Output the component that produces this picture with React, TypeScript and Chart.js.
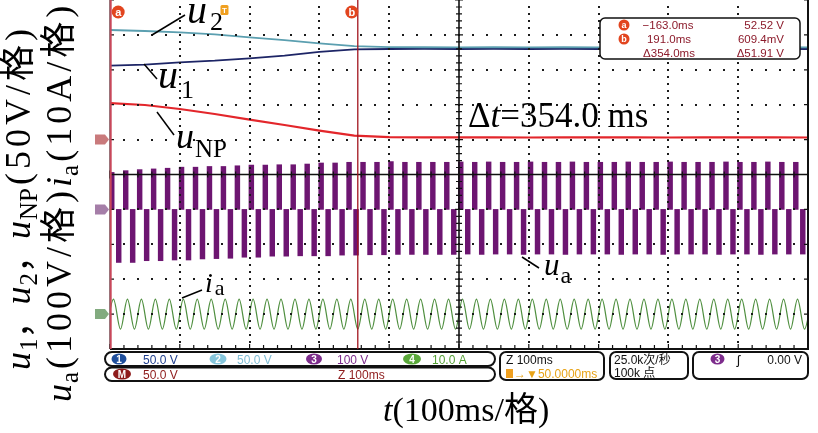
import React, { useEffect, useRef } from "react";
import { Chart, registerables } from "chart.js";

Chart.register(...registerables);

const W = 818;
const H = 433;

// ---------------- data ----------------
const timeWindowMs = [-164, 836];
const divisionMs = 100;
const cursorTimesMs = [-163.0, 191.0];
const triggerTimeMs = 0;

// channel settings (per division, ground position in divisions from screen centre)
const dcVoltsPerDiv = 50;
const uaVoltsPerDiv = 100;
const iaAmpsPerDiv = 10;
const dcGroundDiv = 1;
const uaGroundDiv = -1;
const iaGroundDiv = -4;

// capacitor voltages and neutral-point voltage (V)
const traceTimesMs = [-164, -114, -64, -14, 36, 86, 136, 186, 236, 286, 336, 386, 436, 486, 536, 586, 636, 686, 736, 786, 836];
const u2Volts = [157.0, 155.6, 153.7, 150.8, 146.5, 142.6, 138.0, 133.9, 132.4, 132.3, 132.2, 132.3, 132.2, 132.3, 132.2, 132.3, 132.2, 132.3, 132.2, 132.3, 132.2];
const u1Volts = [105.9, 107.3, 110.7, 113.0, 116.5, 120.2, 125.6, 129.3, 129.8, 129.9, 129.8, 129.9, 129.8, 129.9, 129.8, 129.9, 129.8, 129.9, 129.8, 129.9, 129.8];
const uNpVolts = [52.4, 49.6, 43.8, 36.7, 28.5, 20.9, 12.8, 5.6, 3.6, 3.2, 3.1, 3.2, 3.0, 3.2, 3.1, 3.2, 3.0, 3.2, 3.1, 3.2, 3.0];

// phase current: successive extrema (A), one every 10 ms starting at -169 ms
const iaFirstExtremumMs = -169;
const iaExtremumStepMs = 10;
const iaExtremaAmps = [
  -4.3, 4.3, -4.3, 4.3, -4.3, 4.3, -4.3, 4.3, -4.3, 4.3,
  -4.3, 4.3, -4.3, 4.3, -4.3, 4.3, -4.3, 4.3, -4.3, 4.3,
  -4.3, 4.3, -4.3, 4.3, -4.3, 4.3, -4.3, 4.3, -4.3, 4.3,
  -4.3, 4.3, -4.3, 4.3, -4.3, 4.3, -4.3, 4.3, -4.3, 4.3,
  -4.3, 4.3, -4.3, 4.3, -4.3, 4.3, -4.3, 4.3, -4.3, 4.3,
  -4.3, 4.3, -4.3, 4.3, -4.3, 4.3, -4.3, 4.3, -4.3, 4.3,
  -4.3, 4.3, -4.3, 4.3, -4.3, 4.3, -4.3, 4.3, -4.3, 4.3,
  -4.3, 4.3, -4.3, 4.3, -4.3, 4.3, -4.3, 4.3, -4.3, 4.3,
  -4.3, 4.3, -4.3, 4.3, -4.3, 4.3, -4.3, 4.3, -4.3, 4.3,
  -4.3, 4.3, -4.3, 4.3, -4.3, 4.3, -4.3, 4.3, -4.3, 4.3,
  -4.3, 4.3,
];

// phase voltage: one positive and one negative pulse block per fundamental cycle (V)
const uaFirstPositiveMs = -161.5;
const uaFirstNegativeMs = -151.5;
const uaCycleMs = 20;
const uaPositiveVolts = [
  106, 111, 114, 116, 118, 121, 121, 123, 123, 125, 127, 127, 128, 128, 130, 133, 133, 135, 135, 135, 137, 135, 135, 135, 135,
  136, 135, 136, 135, 135, 136, 135, 135, 136, 135, 135, 135, 136, 135, 135, 136, 135, 135, 135, 136, 135, 135, 136, 135, 135,
];
const uaNegativeVolts = [
  -152, -152, -147, -147, -145, -145, -142, -141, -140, -137, -137, -134, -134, -133, -133, -133, -131, -131, -130, -130, -129, -129, -129, -129, -129,
  -128, -129, -128, -128, -129, -128, -128, -129, -128, -128, -128, -129, -128, -128, -129, -128, -128, -128, -129, -128, -128, -129, -128, -128, -128,
];

// ---------------- styling ----------------
const SERIF = '"Liberation Serif", "Times New Roman", "Noto Sans CJK SC", serif';
const SANS = '"Liberation Sans", "DejaVu Sans", "Noto Sans CJK SC", sans-serif';

type Run = { t: string; s: number; it?: boolean; dy?: number; dx?: number; f?: string; c?: string; w?: string; ls?: number };

function drawRuns(ctx: CanvasRenderingContext2D, runs: Run[], x: number, y: number) {
  let cx = x;
  for (const r of runs) {
    const parts: string[] = [];
    if (r.it) parts.push("italic");
    if (r.w) parts.push(r.w);
    parts.push(`${r.s}px ${r.f ?? SERIF}`);
    ctx.font = parts.join(" ");
    (ctx as any).letterSpacing = `${r.ls ?? 0}px`;
    ctx.fillStyle = r.c ?? "#000";
    cx += r.dx ?? 0;
    ctx.fillText(r.t, cx, y + (r.dy ?? 0));
    cx += ctx.measureText(r.t).width;
  }
  (ctx as any).letterSpacing = "0px";
  return cx;
}

function line(ctx: CanvasRenderingContext2D, x1: number, y1: number, x2: number, y2: number, color = "#000", w = 1.5) {
  ctx.beginPath();
  ctx.moveTo(x1, y1);
  ctx.lineTo(x2, y2);
  ctx.strokeStyle = color;
  ctx.lineWidth = w;
  ctx.stroke();
}

function box(ctx: CanvasRenderingContext2D, x: number, y: number, w: number, h: number, r: number, lw = 2) {
  ctx.beginPath();
  ctx.roundRect(x, y, w, h, r);
  ctx.fillStyle = "#fff";
  ctx.fill();
  ctx.strokeStyle = "#111";
  ctx.lineWidth = lw;
  ctx.stroke();
}

function badge(ctx: CanvasRenderingContext2D, cx: number, cy: number, w: number, h: number, fill: string, label: string) {
  ctx.beginPath();
  ctx.ellipse(cx, cy, w / 2, h / 2, 0, 0, Math.PI * 2);
  ctx.fillStyle = fill;
  ctx.fill();
  ctx.fillStyle = "#fff";
  ctx.font = `bold 10px ${SANS}`;
  ctx.textAlign = "center";
  ctx.fillText(label, cx, cy + 3.6);
  ctx.textAlign = "left";
}

function txt(ctx: CanvasRenderingContext2D, s: string, x: number, y: number, color: string, size = 12, align: CanvasTextAlign = "left") {
  ctx.font = `${size}px ${SANS}`;
  ctx.fillStyle = color;
  ctx.textAlign = align;
  ctx.fillText(s, x, y);
  ctx.textAlign = "left";
}

const scopePlugin = {
  id: "scopeScreen",
  afterDatasetsDraw(chart: any) {
    const { ctx, chartArea: a } = chart;
    const xs = chart.scales.x;
    const yd = chart.scales.yDiv;
    const t0 = timeWindowMs[0];
    ctx.save();
    // dotted graticule
    ctx.fillStyle = "#1b1b1b";
    for (let k = 1; k < 10; k++) {
      if (k === 5) continue;
      const px = Math.round(xs.getPixelForValue(t0 + k * divisionMs));
      for (let j = 1; j < 50; j++) {
        const py = Math.round(yd.getPixelForValue(-5 + j * 0.2));
        ctx.fillRect(px - 1, py - 1, 2, 2);
      }
    }
    for (let k = -4; k <= 4; k++) {
      if (k === 0) continue;
      const py = Math.round(yd.getPixelForValue(k));
      for (let j = 1; j < 50; j++) {
        const px = Math.round(xs.getPixelForValue(t0 + (j * divisionMs) / 5));
        ctx.fillRect(px - 1, py - 1, 2, 2);
      }
    }
    // centre cross
    const cx = xs.getPixelForValue(t0 + 5 * divisionMs);
    const cy = yd.getPixelForValue(0);
    line(ctx, a.left, cy, a.right, cy, "#111", 1.6);
    line(ctx, cx, a.top, cx, a.bottom, "#111", 1.6);
    ctx.beginPath();
    for (let j = 0; j <= 50; j++) {
      const px = xs.getPixelForValue(t0 + (j * divisionMs) / 5);
      const len = j % 5 === 0 ? 4 : 3;
      ctx.moveTo(px, cy - len);
      ctx.lineTo(px, cy + len);
      ctx.moveTo(px, a.bottom);
      ctx.lineTo(px, a.bottom - len - 1);
    }
    for (let j = 0; j <= 50; j++) {
      const py = yd.getPixelForValue(-5 + j * 0.2);
      const len = j % 5 === 0 ? 4 : 3;
      ctx.moveTo(cx - len, py);
      ctx.lineTo(cx + len, py);
      if (j % 5 === 0) {
        ctx.moveTo(a.left, py);
        ctx.lineTo(a.left + 4, py);
        ctx.moveTo(a.right, py);
        ctx.lineTo(a.right - 4, py);
      }
    }
    ctx.strokeStyle = "#111";
    ctx.lineWidth = 1.2;
    ctx.stroke();
    // frame
    line(ctx, a.left, a.bottom, a.right, a.bottom, "#111", 2);
    line(ctx, a.right, a.top, a.right, a.bottom + 1, "#111", 2);
    line(ctx, a.left, a.top, a.left, a.bottom, "#111", 1);
    ctx.restore();
  },
  afterDraw(chart: any) {
    const { ctx, chartArea: a } = chart;
    const xs = chart.scales.x;
    ctx.save();
    // cursors
    const xa = xs.getPixelForValue(cursorTimesMs[0]);
    const xb = xs.getPixelForValue(cursorTimesMs[1]);
    line(ctx, xa, a.top, xa, a.bottom, "#c8475a", 2);
    line(ctx, xb, a.top, xb, a.bottom, "#a3161f", 1.3);
    // cursor tags
    const tag = (x: number, y: number, l: string, r = 6.5, fs = 11) => {
      ctx.beginPath();
      ctx.arc(x, y, r, 0, Math.PI * 2);
      ctx.fillStyle = "#e2451f";
      ctx.fill();
      ctx.fillStyle = "#fff";
      ctx.font = `bold ${fs}px ${SANS}`;
      ctx.textAlign = "center";
      ctx.fillText(l, x, y + fs * 0.33);
      ctx.textAlign = "left";
    };
    tag(xa + 7.5, 12, "a");
    tag(xb - 6, 12, "b");
    // trigger marker
    const xt = xs.getPixelForValue(triggerTimeMs);
    ctx.fillStyle = "#f0a020";
    ctx.beginPath();
    ctx.roundRect(xt - 4, 5, 8, 10, 1.5);
    ctx.fill();
    ctx.fillStyle = "#fff";
    ctx.font = `bold 8px ${SANS}`;
    ctx.textAlign = "center";
    ctx.fillText("T", xt, 13);
    ctx.textAlign = "left";
    // ground markers on the left
    const marker = (y: number, c: string) => {
      ctx.beginPath();
      ctx.moveTo(95, y - 5);
      ctx.lineTo(105, y - 5);
      ctx.lineTo(109, y);
      ctx.lineTo(105, y + 5);
      ctx.lineTo(95, y + 5);
      ctx.closePath();
      ctx.fillStyle = c;
      ctx.fill();
    };
    marker(chart.scales.yV.getPixelForValue(0), "#c97a7c");
    marker(chart.scales.yUa.getPixelForValue(0), "#a57ea8");
    marker(chart.scales.yIa.getPixelForValue(0), "#82ab7f");

    // cursor readout box
    box(ctx, 600, 18, 200, 41, 5, 1.5);
    const red = "#8c1b2b";
    tag(624, 25, "a", 5.5, 9);
    tag(624, 39, "b", 5.5, 9);
    txt(ctx, "\u2212163.0ms", 668, 29, red, 11.5, "center");
    txt(ctx, "52.52 V", 784, 29, red, 11.5, "right");
    txt(ctx, "191.0ms", 669, 43, red, 11.5, "center");
    txt(ctx, "609.4mV", 784, 43, red, 11.5, "right");
    txt(ctx, "\u0394354.0ms", 669, 57, red, 11.5, "center");
    txt(ctx, "\u039451.91 V", 784, 57, red, 11.5, "right");

    // trace labels and leaders
    line(ctx, 152, 35, 185, 15);
    drawRuns(ctx, [{ t: "u", s: 40, it: true }, { t: "2", s: 26, dy: 7, dx: 3 }], 187, 23);
    line(ctx, 144, 64, 157, 79);
    drawRuns(ctx, [{ t: "u", s: 40, it: true }, { t: "1", s: 26, dy: 10, dx: 3 }], 158, 88);
    line(ctx, 157, 112, 174, 135);
    drawRuns(ctx, [{ t: "u", s: 36, it: true }, { t: "NP", s: 25, dy: 9, dx: 1 }], 176, 148);
    line(ctx, 522, 257, 539, 268);
    drawRuns(ctx, [{ t: "u", s: 31, it: true }, { t: "a", s: 24, dy: 8, dx: 1 }], 544, 275);
    line(ctx, 182, 298, 202, 290);
    drawRuns(ctx, [{ t: "i", s: 28, it: true }, { t: "a", s: 22, dy: 3, dx: 2 }], 205, 292);
    drawRuns(ctx, [{ t: "\u0394", s: 35 }, { t: "t", s: 35, it: true }, { t: "=354.0 ms", s: 35 }], 468, 127);

    // axis titles
    drawRuns(ctx, [{ t: "t", s: 34, it: true }, { t: "(100ms/\u683c)", s: 34 }], 383, 421);
    ctx.save();
    ctx.translate(30, 370);
    ctx.rotate(-Math.PI / 2);
    drawRuns(ctx, [
      { t: "u", s: 36, it: true }, { t: "1", s: 25, dy: 7, dx: 1 }, { t: "\uff0c", s: 34 },
      { t: "u", s: 36, it: true }, { t: "2", s: 25, dy: 7, dx: 1 }, { t: "\uff0c", s: 34 },
      { t: "u", s: 36, it: true }, { t: "NP", s: 25, dy: 7, dx: 1 },
      { t: "(50V/\u683c)", s: 36, ls: 4, dx: 3 },
    ], 0, 0);
    ctx.restore();
    ctx.save();
    ctx.translate(71, 402);
    ctx.rotate(-Math.PI / 2);
    drawRuns(ctx, [
      { t: "u", s: 36, it: true }, { t: "a", s: 25, dy: 7, dx: 1 }, { t: "(100V/\u683c)", s: 36, ls: 4, dx: 3 },
      { t: "i", s: 36, it: true }, { t: "a", s: 25, dy: 7, dx: 1 }, { t: "(10A/\u683c)", s: 36, ls: 4, dx: 3 },
    ], 0, 0);
    ctx.restore();

    // status bar
    box(ctx, 105, 352, 390, 14, 7);
    box(ctx, 105, 367.5, 390, 13.5, 7);
    badge(ctx, 119, 359, 15, 11, "#1f4f9c", "1");
    txt(ctx, "50.0 V", 143, 363.5, "#21408f");
    badge(ctx, 218, 359, 17, 11, "#86c6dc", "2");
    txt(ctx, "50.0 V", 237, 363.5, "#7fbcd4");
    badge(ctx, 314, 359, 16, 11, "#7d2c8c", "3");
    txt(ctx, "100 V", 337, 363.5, "#7d2c8c");
    badge(ctx, 412, 359, 18, 11, "#5aa83a", "4");
    txt(ctx, "10.0 A", 432, 363.5, "#55a035");
    badge(ctx, 122, 374, 18, 11, "#8e1b1b", "M");
    txt(ctx, "50.0 V", 143, 378.5, "#8e1b1b");
    txt(ctx, "Z 100ms", 338, 378.5, "#8e1b1b");

    box(ctx, 500, 352, 104, 28, 6);
    txt(ctx, "Z 100ms", 506, 363.5, "#111");
    ctx.fillStyle = "#f0a020";
    ctx.fillRect(506, 369, 7, 9);
    txt(ctx, "\u2192\u25bc50.0000ms", 514, 377.5, "#e8a317");

    box(ctx, 610, 352, 78, 27, 6);
    txt(ctx, "25.0k\u6b21/\u79d2", 614, 363.5, "#111");
    txt(ctx, "100k \u70b9", 614, 377, "#111");

    box(ctx, 693, 352, 115, 27, 6);
    badge(ctx, 717.5, 359, 14, 11, "#7d2c8c", "3");
    txt(ctx, "\u0283", 737, 364, "#111", 13);
    txt(ctx, "0.00 V", 802, 363.5, "#111", 12, "right");

    ctx.restore();
  },
};

function rangeFor(perDiv: number, groundDiv: number) {
  return { min: (-5 - groundDiv) * perDiv, max: (5 - groundDiv) * perDiv };
}

export default function App() {
  const ref = useRef<HTMLCanvasElement>(null);

  useEffect(() => {
    const canvas = ref.current;
    if (!canvas) return;

    const uaBars: { x: number; y: [number, number] }[] = [];
    uaPositiveVolts.forEach((v, k) => {
      uaBars.push({ x: uaFirstPositiveMs + k * uaCycleMs, y: [0, v] });
      uaBars.push({ x: uaFirstNegativeMs + k * uaCycleMs, y: [uaNegativeVolts[k], 0] });
    });
    const iaPoints = iaExtremaAmps.map((v, i) => ({ x: iaFirstExtremumMs + i * iaExtremumStepMs, y: v }));
    const pts = (vals: number[]) => vals.map((v, i) => ({ x: traceTimesMs[i], y: v }));

    const dc = rangeFor(dcVoltsPerDiv, dcGroundDiv);
    const ua = rangeFor(uaVoltsPerDiv, uaGroundDiv);
    const ia = rangeFor(iaAmpsPerDiv, iaGroundDiv);

    const chart = new Chart(canvas, {
      type: "line",
      data: {
        datasets: [
          { label: "u2", data: pts(u2Volts), borderColor: "#5b9fb0", borderWidth: 1.8, pointRadius: 0, yAxisID: "yV" },
          { label: "u1", data: pts(u1Volts), borderColor: "#1d2566", borderWidth: 1.8, pointRadius: 0, yAxisID: "yV" },
          { label: "uNP", data: pts(uNpVolts), borderColor: "#e3262b", borderWidth: 2.2, pointRadius: 0, yAxisID: "yV" },
          { label: "ia", data: iaPoints, borderColor: "#4f8f3f", borderWidth: 1.2, pointRadius: 0, cubicInterpolationMode: "monotone", yAxisID: "yIa" },
          { type: "bar", label: "ua", data: uaBars as any, backgroundColor: "#6d1571", borderWidth: 0, barThickness: 4.8, yAxisID: "yUa" } as any,
        ],
      },
      options: {
        animation: false,
        responsive: false,
        devicePixelRatio: 1,
        layout: { padding: { left: 110, right: 10, top: 0, bottom: 84 } },
        plugins: { legend: { display: false }, tooltip: { enabled: false } },
        scales: {
          x: { type: "linear", min: timeWindowMs[0], max: timeWindowMs[1], display: false, offset: false },
          yDiv: { axis: "y", type: "linear", min: -5, max: 5, display: false },
          yV: { axis: "y", type: "linear", min: dc.min, max: dc.max, display: false },
          yUa: { axis: "y", type: "linear", min: ua.min, max: ua.max, display: false },
          yIa: { axis: "y", type: "linear", min: ia.min, max: ia.max, display: false },
        },
      } as any,
      plugins: [scopePlugin],
    });
    return () => chart.destroy();
  }, []);

  return (
    <div style={{ position: "fixed", left: 0, top: 0, width: W, height: H, background: "#fff", overflow: "hidden" }}>
      <canvas ref={ref} width={W} height={H} style={{ display: "block", width: W, height: H }} />
    </div>
  );
}
